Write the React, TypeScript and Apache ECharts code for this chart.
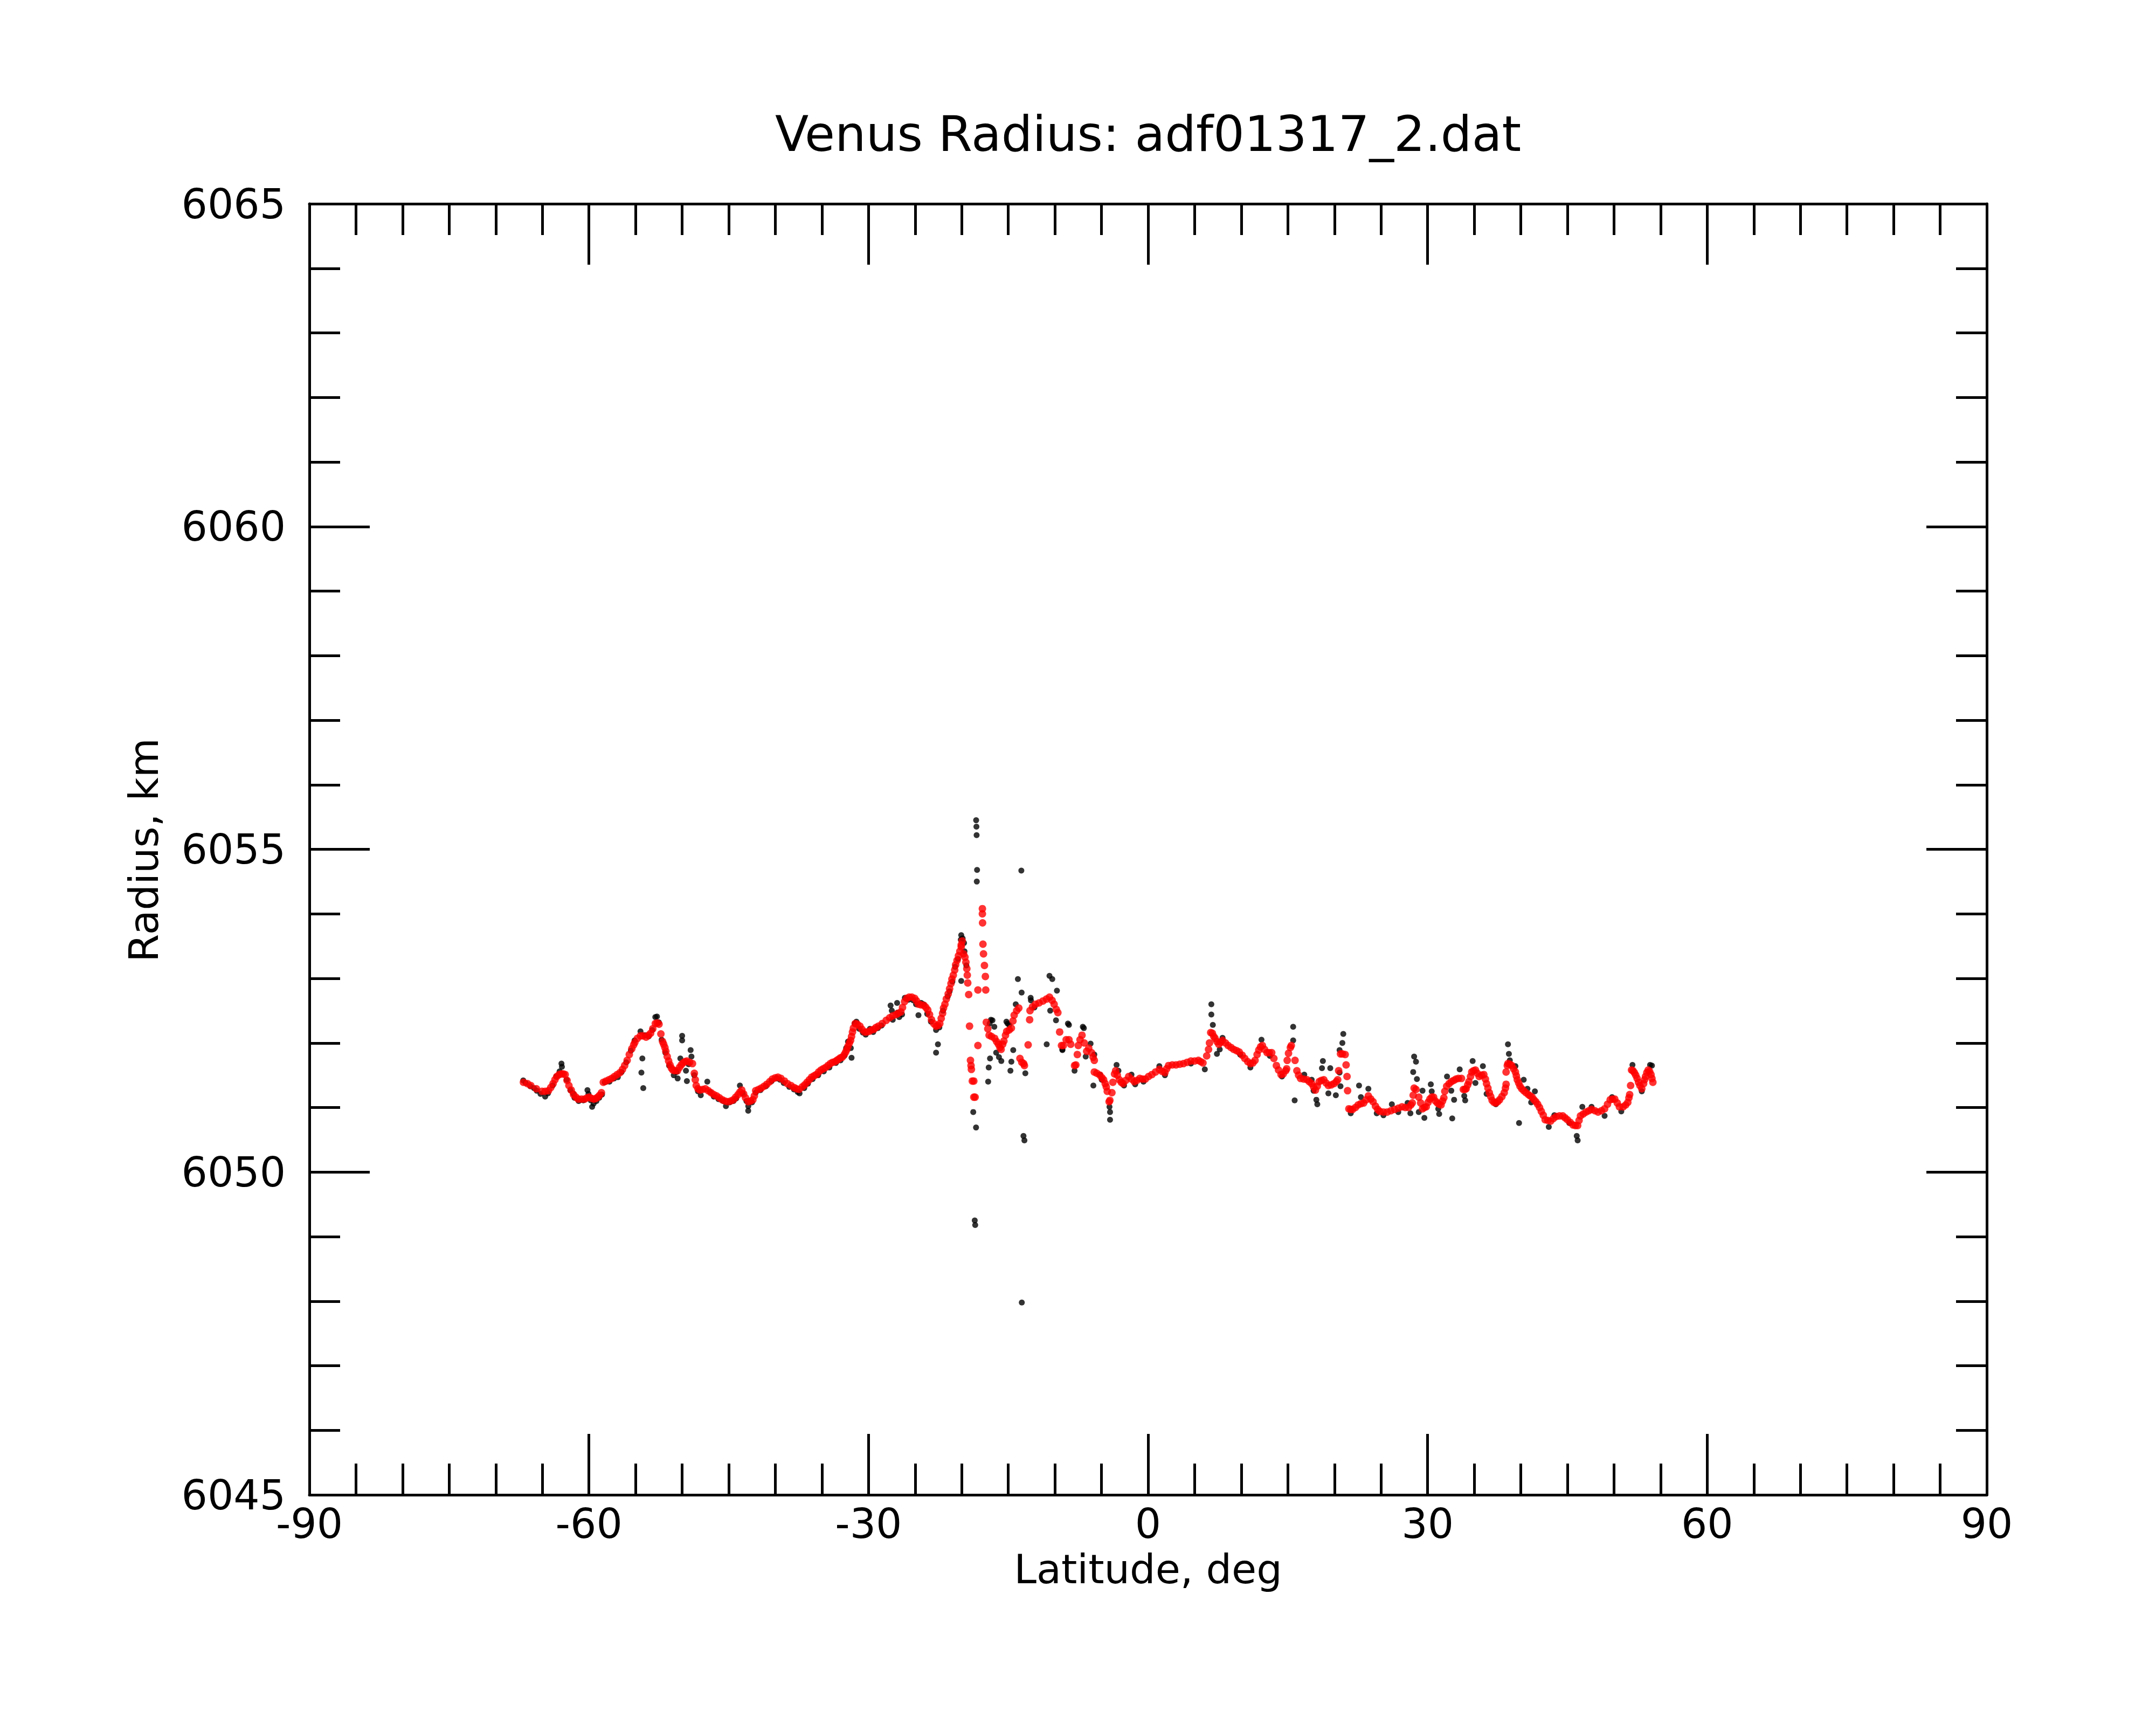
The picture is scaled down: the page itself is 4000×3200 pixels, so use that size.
import React, { useEffect, useRef } from "react";
import * as echarts from "echarts";

// Smoothed radius (red) — [latitude deg, radius km]
const redPoints: number[][] = [
  [-67.03, 6051.39], [-66.6, 6051.37], [-66.24, 6051.34], [-65.64, 6051.29], [-65.04, 6051.25], [-64.7, 6051.25],
  [-64.34, 6051.26], [-64.1, 6051.31], [-63.85, 6051.37], [-63.65, 6051.43], [-63.45, 6051.48], [-63.2, 6051.51],
  [-62.95, 6051.52], [-62.75, 6051.52], [-62.55, 6051.51], [-62.35, 6051.42], [-62.15, 6051.34], [-61.9, 6051.27],
  [-61.65, 6051.2], [-61.4, 6051.16], [-61.15, 6051.13], [-60.8, 6051.13], [-60.46, 6051.13], [-60.2, 6051.15],
  [-59.96, 6051.16], [-59.7, 6051.14], [-59.46, 6051.13], [-59.26, 6051.14], [-59.06, 6051.16], [-58.86, 6051.19],
  [-58.66, 6051.23], [-58.46, 6051.39], [-58.16, 6051.41], [-57.86, 6051.43], [-57.56, 6051.45], [-57.27, 6051.48],
  [-56.97, 6051.51], [-56.67, 6051.54], [-56.4, 6051.59], [-56.17, 6051.65], [-55.9, 6051.73], [-55.67, 6051.82],
  [-55.4, 6051.91], [-55.2, 6051.97], [-55.07, 6052.01], [-54.8, 6052.07], [-54.47, 6052.11], [-54.2, 6052.11],
  [-53.87, 6052.09], [-53.6, 6052.12], [-53.38, 6052.15], [-53.15, 6052.22], [-52.88, 6052.3], [-52.68, 6052.31],
  [-52.48, 6052.29], [-52.28, 6052.14], [-52.1, 6052.02], [-51.98, 6051.98], [-51.85, 6051.93], [-51.75, 6051.87],
  [-51.6, 6051.79], [-51.45, 6051.72], [-51.3, 6051.66], [-51.15, 6051.61], [-51.0, 6051.58], [-50.8, 6051.57],
  [-50.5, 6051.57], [-50.29, 6051.62], [-50.1, 6051.66], [-49.9, 6051.69], [-49.7, 6051.71], [-49.49, 6051.72],
  [-49.2, 6051.7], [-48.89, 6051.68], [-48.69, 6051.53], [-48.59, 6051.43], [-48.49, 6051.34], [-48.3, 6051.29],
  [-48.09, 6051.27], [-47.8, 6051.28], [-47.5, 6051.29], [-47.2, 6051.26], [-46.9, 6051.23], [-46.6, 6051.2],
  [-46.3, 6051.18], [-46.0, 6051.15], [-45.7, 6051.12], [-45.4, 6051.1], [-45.1, 6051.09], [-44.8, 6051.1],
  [-44.5, 6051.12], [-44.25, 6051.16], [-44.0, 6051.2], [-43.8, 6051.24], [-43.6, 6051.27], [-43.4, 6051.21],
  [-43.2, 6051.15], [-42.91, 6051.09], [-42.65, 6051.1], [-42.41, 6051.12], [-42.25, 6051.18], [-42.11, 6051.26],
  [-41.8, 6051.28], [-41.51, 6051.3], [-41.2, 6051.33], [-40.91, 6051.36], [-40.6, 6051.4], [-40.32, 6051.44],
  [-40.0, 6051.46], [-39.72, 6051.47], [-39.4, 6051.45], [-39.02, 6051.41], [-38.7, 6051.37], [-38.32, 6051.34],
  [-38.0, 6051.31], [-37.72, 6051.29], [-37.45, 6051.28], [-37.1, 6051.32], [-36.85, 6051.35], [-36.6, 6051.39],
  [-36.35, 6051.43], [-36.1, 6051.47], [-35.85, 6051.49], [-35.6, 6051.51], [-35.35, 6051.55], [-35.1, 6051.58],
  [-34.85, 6051.6], [-34.6, 6051.62], [-34.35, 6051.65], [-34.1, 6051.68], [-33.85, 6051.7], [-33.61, 6051.71],
  [-33.4, 6051.73], [-33.2, 6051.75], [-33.0, 6051.77], [-32.81, 6051.78], [-32.6, 6051.82], [-32.45, 6051.86],
  [-32.32, 6051.9], [-32.2, 6051.95], [-32.05, 6052.0], [-31.92, 6052.04], [-31.82, 6052.1], [-31.72, 6052.17],
  [-31.62, 6052.23], [-31.42, 6052.3], [-31.2, 6052.29], [-30.92, 6052.26], [-30.7, 6052.21], [-30.42, 6052.17],
  [-30.2, 6052.17], [-29.92, 6052.18], [-29.7, 6052.2], [-29.43, 6052.21], [-29.2, 6052.24], [-28.93, 6052.26],
  [-28.53, 6052.3], [-28.1, 6052.35], [-27.73, 6052.39], [-27.4, 6052.42], [-27.03, 6052.44], [-26.8, 6052.46],
  [-26.53, 6052.48], [-26.35, 6052.55], [-26.13, 6052.64], [-25.9, 6052.69], [-25.64, 6052.71], [-25.35, 6052.71],
  [-25.04, 6052.69], [-24.84, 6052.65], [-24.64, 6052.6], [-24.35, 6052.59], [-24.04, 6052.58], [-23.84, 6052.55],
  [-23.64, 6052.51], [-23.45, 6052.44], [-23.24, 6052.36], [-23.0, 6052.3], [-22.75, 6052.26], [-22.55, 6052.27],
  [-22.35, 6052.3], [-22.2, 6052.38], [-22.05, 6052.46], [-21.95, 6052.54], [-21.8, 6052.6], [-21.65, 6052.68],
  [-21.45, 6052.76], [-21.3, 6052.84], [-21.15, 6052.92], [-21.05, 6052.99], [-20.9, 6053.05], [-20.75, 6053.13],
  [-20.65, 6053.21], [-20.5, 6053.28], [-20.35, 6053.35], [-20.2, 6053.42], [-20.05, 6053.49], [-20.05, 6053.52],
  [-19.95, 6053.58], [-19.8, 6053.38], [-19.65, 6053.33], [-19.55, 6053.25], [-19.45, 6053.15], [-19.4, 6053.05],
  [-19.35, 6052.93], [-19.25, 6052.75], [-19.16, 6052.26], [-19.06, 6051.73], [-19.0, 6051.65], [-18.96, 6051.59],
  [-18.86, 6051.41], [-18.7, 6051.41], [-18.7, 6051.16], [-18.56, 6051.16], [-18.26, 6051.96], [-18.26, 6052.82],
  [-17.78, 6054.08], [-17.78, 6054.0], [-17.76, 6053.86], [-17.72, 6053.53], [-17.66, 6053.38], [-17.56, 6053.2],
  [-17.46, 6053.03], [-17.42, 6052.82], [-17.36, 6052.32], [-17.2, 6052.22], [-17.06, 6052.12], [-16.8, 6052.1],
  [-16.46, 6052.07], [-16.25, 6052.02], [-16.06, 6051.98], [-15.9, 6051.93], [-15.77, 6051.9], [-15.6, 6051.98],
  [-15.47, 6052.03], [-15.3, 6052.12], [-15.17, 6052.18], [-14.9, 6052.2], [-14.67, 6052.23], [-14.5, 6052.34],
  [-14.37, 6052.43], [-14.1, 6052.5], [-13.87, 6052.54], [-13.75, 6051.76], [-13.55, 6051.7], [-13.35, 6051.68],
  [-13.27, 6051.65], [-12.87, 6051.97], [-12.71, 6052.36], [-12.67, 6052.5], [-12.4, 6052.56], [-12.08, 6052.6],
  [-11.7, 6052.62], [-11.28, 6052.65], [-10.9, 6052.68], [-10.58, 6052.71], [-10.3, 6052.66], [-10.08, 6052.6],
  [-9.85, 6052.52], [-9.68, 6052.47], [-9.49, 6052.17], [-9.29, 6051.96], [-9.09, 6051.96], [-8.79, 6052.05],
  [-8.49, 6052.05], [-8.3, 6051.98], [-7.89, 6051.65], [-7.75, 6051.66], [-7.59, 6051.82], [-7.49, 6051.96],
  [-7.3, 6052.05], [-7.09, 6052.12], [-6.85, 6052.0], [-6.59, 6051.87], [-6.37, 6051.92], [-6.07, 6051.85],
  [-5.9, 6051.78], [-5.77, 6051.73], [-5.77, 6051.55], [-5.5, 6051.53], [-5.17, 6051.5], [-4.95, 6051.46],
  [-4.77, 6051.43], [-4.6, 6051.37], [-4.48, 6051.32], [-4.38, 6051.25], [-4.18, 6051.09], [-4.1, 6051.11],
  [-3.88, 6051.23], [-3.78, 6051.39], [-3.6, 6051.52], [-3.48, 6051.57], [-3.3, 6051.5], [-3.08, 6051.43],
  [-2.88, 6051.39], [-2.68, 6051.37], [-2.4, 6051.42], [-2.08, 6051.48], [-1.78, 6051.44], [-1.48, 6051.4],
  [-1.2, 6051.42], [-0.89, 6051.45], [-0.6, 6051.44], [-0.29, 6051.44], [0.05, 6051.48], [0.41, 6051.51],
  [0.8, 6051.55], [1.21, 6051.59], [1.5, 6051.56], [1.81, 6051.54], [2.0, 6051.6], [2.2, 6051.65],
  [2.6, 6051.66], [3.0, 6051.66], [3.4, 6051.67], [3.8, 6051.68], [4.2, 6051.7], [4.6, 6051.72],
  [5.0, 6051.72], [5.4, 6051.73], [5.65, 6051.71], [5.89, 6051.69], [6.29, 6051.8], [6.49, 6051.9],
  [6.59, 6052.0], [6.72, 6052.16], [6.9, 6052.15], [7.05, 6052.1], [7.19, 6052.07], [7.4, 6052.02],
  [7.59, 6051.98], [7.8, 6052.01], [7.99, 6052.04], [8.3, 6052.0], [8.59, 6051.96], [8.9, 6051.93],
  [9.19, 6051.9], [9.5, 6051.88], [9.78, 6051.86], [10.1, 6051.81], [10.38, 6051.76], [10.7, 6051.71],
  [10.98, 6051.68], [11.25, 6051.69], [11.48, 6051.73], [11.7, 6051.82], [11.88, 6051.89], [12.07, 6051.94],
  [12.27, 6051.96], [12.5, 6051.9], [12.77, 6051.85], [13.0, 6051.85], [13.27, 6051.85], [13.5, 6051.76],
  [13.77, 6051.65], [14.0, 6051.58], [14.27, 6051.51], [14.5, 6051.52], [14.77, 6051.57], [14.87, 6051.6],
  [14.93, 6051.73], [15.07, 6051.84], [15.27, 6051.93], [15.37, 6051.96], [15.77, 6051.73], [15.97, 6051.57],
  [16.15, 6051.5], [16.36, 6051.45], [16.7, 6051.44], [17.06, 6051.43], [17.3, 6051.4], [17.56, 6051.37],
  [17.76, 6051.32], [17.96, 6051.27], [18.16, 6051.33], [18.36, 6051.4], [18.6, 6051.42], [18.86, 6051.43],
  [19.1, 6051.38], [19.35, 6051.34], [19.65, 6051.35], [19.95, 6051.37], [20.2, 6051.4], [20.35, 6051.43],
  [20.45, 6051.57], [20.65, 6051.83], [20.85, 6051.83], [21.15, 6051.82], [21.25, 6051.66], [21.35, 6051.48],
  [21.41, 6051.26], [21.55, 6050.98], [21.75, 6050.97], [21.95, 6050.97], [22.25, 6051.0], [22.54, 6051.04],
  [22.85, 6051.06], [23.14, 6051.07], [23.4, 6051.12], [23.64, 6051.18], [23.9, 6051.13], [24.14, 6051.09],
  [24.4, 6051.02], [24.64, 6050.97], [24.86, 6050.94], [25.26, 6050.93], [25.66, 6050.93], [26.06, 6050.95],
  [26.46, 6050.97], [26.86, 6050.99], [27.25, 6051.01], [27.6, 6051.0], [27.95, 6051.0], [28.2, 6051.04],
  [28.35, 6051.07], [28.45, 6051.19], [28.55, 6051.3], [28.75, 6051.28], [29.05, 6051.16], [29.25, 6051.07],
  [29.45, 6050.98], [29.65, 6051.0], [29.85, 6051.01], [30.05, 6051.08], [30.24, 6051.13], [30.44, 6051.16],
  [30.64, 6051.16], [30.84, 6051.1], [31.04, 6051.07], [31.24, 6051.05], [31.44, 6051.04], [31.6, 6051.1],
  [31.74, 6051.15], [31.84, 6051.25], [32.04, 6051.33], [32.3, 6051.37], [32.54, 6051.4], [32.8, 6051.42],
  [33.04, 6051.44], [33.3, 6051.45], [33.63, 6051.45], [33.83, 6051.28], [34.0, 6051.28], [34.13, 6051.29],
  [34.3, 6051.35], [34.43, 6051.4], [34.6, 6051.48], [34.73, 6051.55], [34.93, 6051.57], [35.13, 6051.58],
  [35.33, 6051.53], [35.53, 6051.48], [35.8, 6051.5], [36.03, 6051.51], [36.2, 6051.44], [36.32, 6051.37],
  [36.47, 6051.3], [36.62, 6051.23], [36.77, 6051.17], [36.92, 6051.11], [37.12, 6051.08], [37.32, 6051.07],
  [37.52, 6051.09], [37.72, 6051.12], [37.97, 6051.17], [38.22, 6051.23], [38.35, 6051.3], [38.42, 6051.36],
  [38.42, 6051.55], [38.55, 6051.65], [38.62, 6051.68], [38.82, 6051.67], [39.02, 6051.65], [39.22, 6051.6],
  [39.42, 6051.55], [39.52, 6051.49], [39.62, 6051.43], [39.77, 6051.38], [39.91, 6051.33], [40.1, 6051.29],
  [40.31, 6051.26], [40.55, 6051.23], [40.81, 6051.2], [41.0, 6051.18], [41.21, 6051.16], [41.41, 6051.12],
  [41.61, 6051.09], [41.81, 6051.05], [42.01, 6051.0], [42.2, 6050.94], [42.41, 6050.88], [42.61, 6050.81],
  [42.9, 6050.8], [43.2, 6050.79], [43.5, 6050.83], [43.8, 6050.86], [44.15, 6050.87], [44.5, 6050.87],
  [44.75, 6050.84], [45.0, 6050.81], [45.3, 6050.77], [45.6, 6050.73], [45.85, 6050.72], [46.1, 6050.72],
  [46.25, 6050.8], [46.4, 6050.87], [46.7, 6050.9], [47.0, 6050.93], [47.3, 6050.95], [47.59, 6050.97],
  [47.95, 6050.95], [48.29, 6050.93], [48.65, 6050.95], [48.99, 6050.98], [49.3, 6051.05], [49.59, 6051.12],
  [49.85, 6051.13], [50.08, 6051.13], [50.35, 6051.07], [50.58, 6051.01], [50.98, 6051.01], [51.25, 6051.04],
  [51.48, 6051.08], [51.6, 6051.15], [51.68, 6051.2], [51.78, 6051.34], [51.88, 6051.58], [52.03, 6051.57],
  [52.18, 6051.54], [52.33, 6051.5], [52.48, 6051.45], [52.63, 6051.39], [52.78, 6051.34], [52.98, 6051.29],
  [53.18, 6051.37], [53.28, 6051.43], [53.38, 6051.48], [53.52, 6051.54], [53.67, 6051.58], [53.82, 6051.56],
  [53.97, 6051.51], [54.07, 6051.45], [54.17, 6051.39],
];

// Raw radius samples (black) visible along the profile — [latitude deg, radius km]
const blackTrace: number[][] = [
  [-67.05, 6051.42], [-66.8, 6051.38], [-66.3, 6051.33], [-65.9, 6051.3], [-65.6, 6051.26], [-65.2, 6051.21],
  [-64.7, 6051.17], [-64.4, 6051.22], [-63.9, 6051.34], [-63.5, 6051.48], [-63.15, 6051.56], [-62.95, 6051.68],
  [-62.9, 6051.63], [-62.4, 6051.43], [-62.0, 6051.27], [-61.7, 6051.22], [-61.55, 6051.15], [-61.1, 6051.1],
  [-60.6, 6051.11], [-60.16, 6051.27], [-60.05, 6051.21], [-59.8, 6051.11], [-59.66, 6051.01], [-59.5, 6051.06],
  [-59.2, 6051.1], [-58.9, 6051.15], [-58.6, 6051.2], [-58.3, 6051.39], [-57.8, 6051.4], [-57.3, 6051.45],
  [-56.9, 6051.47], [-56.5, 6051.55], [-56.0, 6051.7], [-55.5, 6051.88], [-55.1, 6052.04], [-54.47, 6052.18],
  [-54.0, 6052.12], [-53.6, 6052.1], [-53.2, 6052.2], [-52.88, 6052.4], [-52.7, 6052.41], [-52.5, 6052.32],
  [-52.2, 6052.05], [-51.8, 6051.85], [-51.4, 6051.65], [-50.9, 6051.5], [-50.48, 6051.45], [-50.6, 6051.55],
  [-49.3, 6051.67], [-48.7, 6051.5], [-48.3, 6051.25], [-48.0, 6051.19], [-47.0, 6051.24], [-46.6, 6051.17],
  [-46.1, 6051.13], [-45.6, 6051.1], [-45.3, 6051.02], [-44.9, 6051.08], [-44.5, 6051.1], [-44.2, 6051.14],
  [-43.5, 6051.22], [-43.1, 6051.1], [-42.9, 6051.02], [-42.5, 6051.08], [-42.1, 6051.23], [-41.6, 6051.27],
  [-41.0, 6051.33], [-40.4, 6051.41], [-39.9, 6051.45], [-39.5, 6051.43], [-39.1, 6051.38], [-38.5, 6051.32],
  [-38.0, 6051.28], [-37.6, 6051.24], [-37.4, 6051.22], [-36.9, 6051.3], [-36.5, 6051.37], [-36.0, 6051.44],
  [-35.4, 6051.5], [-34.8, 6051.56], [-34.2, 6051.62], [-33.5, 6051.69], [-33.0, 6051.73], [-32.6, 6051.8],
  [-32.4, 6051.92], [-32.2, 6052.02], [-31.9, 6051.92], [-31.5, 6052.3], [-31.3, 6052.33], [-31.0, 6052.22],
  [-30.6, 6052.16], [-30.3, 6052.13], [-29.85, 6052.22], [-29.5, 6052.17], [-29.0, 6052.23], [-28.6, 6052.27],
  [-27.5, 6052.5], [-27.4, 6052.36], [-26.9, 6052.47], [-26.7, 6052.4], [-26.4, 6052.44], [-26.1, 6052.7],
  [-25.7, 6052.67], [-25.2, 6052.66], [-24.9, 6052.6], [-24.35, 6052.62], [-24.1, 6052.6], [-23.7, 6052.45],
  [-23.3, 6052.33], [-22.75, 6052.2], [-22.4, 6052.24], [-22.0, 6052.5], [-21.5, 6052.72], [-21.3, 6052.8],
  [-21.0, 6052.95], [-20.7, 6053.18], [-20.4, 6053.3], [-20.1, 6053.6], [-19.9, 6053.62], [-19.75, 6053.55],
  [-19.7, 6053.42], [-19.5, 6053.2], [-17.0, 6052.3], [-16.7, 6052.35], [-16.5, 6052.25], [-16.3, 6051.85],
  [-16.0, 6051.78], [-15.75, 6051.72], [-15.2, 6052.33], [-14.9, 6052.28], [-14.2, 6052.6], [-12.6, 6052.7],
  [-12.2, 6052.55], [-10.5, 6052.5], [-9.2, 6051.9], [-8.6, 6052.3], [-7.0, 6052.25], [-6.17, 6051.99],
  [-5.77, 6051.82], [-5.17, 6051.51], [-4.97, 6051.43], [-4.14, 6051.01], [-3.18, 6051.57], [-2.58, 6051.34],
  [-1.78, 6051.51], [-1.38, 6051.36], [-0.49, 6051.4], [1.21, 6051.64], [1.81, 6051.5], [4.6, 6051.68],
  [6.09, 6051.59], [7.39, 6051.83], [7.69, 6051.9], [9.88, 6051.82], [10.98, 6051.62], [13.07, 6051.8],
  [14.37, 6051.48], [16.76, 6051.51], [17.56, 6051.43], [17.76, 6051.26], [18.06, 6051.12], [20.55, 6051.54],
  [21.75, 6050.91], [24.54, 6050.91], [25.26, 6050.88], [26.16, 6051.05], [26.85, 6050.93], [27.85, 6051.07],
  [28.15, 6050.91], [31.14, 6050.98], [32.08, 6051.48], [33.93, 6051.18], [36.33, 6051.21], [37.32, 6051.05],
  [39.42, 6051.64], [40.31, 6051.43], [40.71, 6051.29], [41.11, 6051.08], [43.0, 6050.7], [43.6, 6050.88],
  [45.2, 6050.76], [46.6, 6051.01], [47.59, 6051.01], [48.99, 6050.87], [49.79, 6051.16], [50.78, 6050.94],
  [51.98, 6051.66], [52.98, 6051.25], [53.87, 6051.66], [54.07, 6051.65],
];

// Raw radius samples (black) that scatter away from the profile
const blackOutliers: number[][] = [
  [-54.27, 6051.76], [-54.37, 6051.54], [-54.17, 6051.3], [-50.0, 6052.11], [-50.0, 6052.04], [-49.09, 6051.89],
  [-49.0, 6051.79], [-50.19, 6051.76], [-49.59, 6051.57], [-49.49, 6051.41], [-47.3, 6051.4], [-43.8, 6051.34],
  [-42.91, 6050.95], [-31.82, 6051.77], [-27.63, 6052.58], [-26.93, 6052.62], [-24.64, 6052.43], [-22.55, 6051.98],
  [-22.75, 6051.85], [-20.05, 6053.67], [-20.05, 6052.96], [-18.45, 6055.45], [-18.42, 6055.35], [-18.4, 6055.22],
  [-18.35, 6054.68], [-18.38, 6054.5], [-18.6, 6049.25], [-18.55, 6049.18], [-18.76, 6050.93], [-18.46, 6050.69],
  [-17.16, 6051.4], [-17.1, 6051.62], [-16.96, 6051.76], [-16.86, 6052.36], [-15.07, 6052.3], [-14.77, 6051.57],
  [-14.67, 6051.71], [-14.47, 6051.89], [-13.97, 6052.99], [-13.57, 6052.78], [-13.6, 6054.67], [-13.37, 6050.56],
  [-13.27, 6050.49], [-13.55, 6047.98], [-13.17, 6051.53], [-12.57, 6052.66], [-10.58, 6053.04], [-10.28, 6052.99],
  [-9.78, 6052.81], [-9.88, 6052.35], [-10.88, 6051.98], [-8.49, 6052.28], [-6.89, 6052.23], [-6.69, 6051.79],
  [-7.89, 6051.57], [-9.19, 6051.89], [-5.87, 6051.34], [-4.08, 6050.93], [-4.08, 6050.81], [-3.38, 6051.66],
  [6.79, 6052.6], [6.79, 6052.44], [6.95, 6052.28], [7.99, 6052.08], [12.17, 6052.05], [15.57, 6052.25],
  [15.57, 6052.04], [15.73, 6051.11], [18.16, 6051.05], [18.76, 6051.72], [18.66, 6051.61], [19.55, 6051.61],
  [19.35, 6051.22], [20.15, 6051.19], [20.65, 6051.33], [20.95, 6052.14], [20.85, 6052.0], [20.55, 6051.89],
  [22.64, 6051.34], [22.84, 6051.16], [23.64, 6051.29], [28.55, 6051.79], [28.75, 6051.71], [28.45, 6051.55],
  [28.85, 6051.44], [29.45, 6051.26], [29.05, 6050.93], [29.65, 6050.84], [30.34, 6051.36], [30.44, 6051.25],
  [31.24, 6050.9], [32.64, 6050.83], [32.84, 6051.12], [32.54, 6051.26], [33.44, 6051.59], [34.03, 6051.11],
  [34.83, 6051.72], [35.13, 6051.38], [35.93, 6051.64], [38.62, 6051.98], [38.72, 6051.83], [38.82, 6051.73],
  [39.81, 6050.76], [41.51, 6051.25], [46.0, 6050.56], [46.1, 6050.49],
];

const xTicks = { min: -90, max: 90, interval: 30 };
const yTicks = { min: 6045, max: 6065, interval: 5 };

const FONT = "DejaVu Sans";
const LINE = { color: "#000", width: 5 };

function makeX(position: "bottom" | "top", showLabel: boolean) {
  return {
    type: "value",
    position,
    min: xTicks.min,
    max: xTicks.max,
    interval: xTicks.interval,
    axisLine: { show: true, onZero: false, lineStyle: LINE },
    axisTick: { show: true, inside: true, length: 113, lineStyle: LINE },
    minorTick: { show: true, splitNumber: 6, length: 58, lineStyle: LINE },
    splitLine: { show: false },
    minorSplitLine: { show: false },
    axisLabel: {
      show: showLabel,
      color: "#000",
      fontSize: 76,
      fontFamily: FONT,
      margin: 15,
      showMinLabel: true,
      showMaxLabel: true,
      formatter: (v: number) => String(v),
    },
  };
}

function makeY(position: "left" | "right", showLabel: boolean) {
  return {
    type: "value",
    position,
    min: yTicks.min,
    max: yTicks.max,
    interval: yTicks.interval,
    axisLine: { show: true, onZero: false, lineStyle: LINE },
    axisTick: { show: true, inside: true, length: 112, lineStyle: LINE },
    minorTick: { show: true, splitNumber: 5, length: 57, lineStyle: LINE },
    splitLine: { show: false },
    minorSplitLine: { show: false },
    axisLabel: {
      show: showLabel,
      color: "#000",
      fontSize: 76,
      fontFamily: FONT,
      margin: 44,
      showMinLabel: true,
      showMaxLabel: true,
      formatter: (v: number) => String(v),
    },
  };
}

export default function App() {
  const ref = useRef<HTMLDivElement>(null);

  useEffect(() => {
    document.body.style.margin = "0";
    if (!ref.current) return;
    const chart = echarts.init(ref.current, null, { renderer: "svg" });
    const blackAll = blackTrace.concat(blackOutliers);
    chart.setOption({
      animation: false,
      backgroundColor: "#ffffff",
      grid: { left: 574, top: 378, width: 3112, height: 2395, containLabel: false },
      xAxis: [makeX("bottom", true), makeX("top", false)],
      yAxis: [makeY("left", true), makeY("right", false)],
      series: [
        {
          type: "scatter",
          name: "raw",
          xAxisIndex: 0,
          yAxisIndex: 0,
          data: blackAll,
          symbol: "circle",
          symbolSize: 11,
          itemStyle: { color: "#000000" },
          silent: true,
          z: 2,
        },
        {
          type: "scatter",
          name: "smoothed",
          xAxisIndex: 0,
          yAxisIndex: 0,
          data: redPoints,
          symbol: "circle",
          symbolSize: 14,
          itemStyle: { color: "#ff0000" },
          silent: true,
          z: 3,
        },
      ],
      graphic: [
        {
          type: "text",
          x: 2130,
          y: 248,
          style: {
            text: "Venus Radius: adf01317_2.dat",
            fill: "#000",
            font: `91px "${FONT}"`,
            textAlign: "center",
            textVerticalAlign: "middle",
          },
        },
        {
          type: "text",
          x: 2130,
          y: 2911,
          style: {
            text: "Latitude, deg",
            fill: "#000",
            font: `75px "${FONT}"`,
            textAlign: "center",
            textVerticalAlign: "middle",
          },
        },
        {
          type: "text",
          x: 267,
          y: 1577,
          rotation: Math.PI / 2,
          style: {
            text: "Radius, km",
            fill: "#000",
            font: `75px "${FONT}"`,
            textAlign: "center",
            textVerticalAlign: "middle",
          },
        },
      ],
    });
    return () => chart.dispose();
  }, []);

  return <div ref={ref} style={{ width: 4000, height: 3200, background: "#fff" }} />;
}
